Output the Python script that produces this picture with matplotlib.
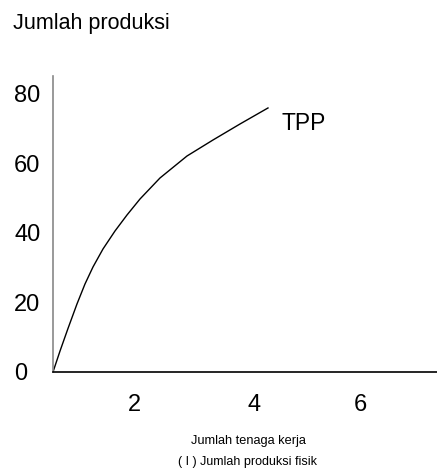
import matplotlib
matplotlib.use("Agg")
import matplotlib.pyplot as plt

plt.rcParams['font.family'] = ['Liberation Sans', 'DejaVu Sans']

# Data
labor = [0.0, 0.128, 0.273, 0.437, 0.583, 0.729, 0.911, 1.130, 1.349,
         1.586, 1.950, 2.443, 2.917, 3.409, 3.919]
tpp = [0.0, 6.03, 12.49, 19.53, 25.27, 30.16, 35.32, 40.49, 45.09,
       49.68, 55.71, 62.03, 66.63, 71.22, 75.82]
y_ticks = [0, 20, 40, 60, 80]
x_tick_labels = ["2", "4", "6"]
x_tick_pos = [1.48, 3.66, 5.60]

fig = plt.figure(figsize=(4.37, 4.72), dpi=100)
ax = fig.add_axes([53/437, 100/472, 384/437, 296/472])

ax.plot(labor, tpp, color='black', lw=1.0, solid_joinstyle='round')
ax.set_xlim(0, 7)
ax.set_ylim(0, 85)

for s in ['top', 'right']:
    ax.spines[s].set_visible(False)
ax.spines['left'].set_color('#888888')
ax.spines['left'].set_linewidth(1.2)
ax.spines['bottom'].set_color('black')
ax.spines['bottom'].set_linewidth(1.2)

ax.set_yticks(y_ticks)
ax.set_yticklabels([str(v) for v in y_ticks])
ax.tick_params(axis='y', length=0, pad=28, labelsize=17)
for lab in ax.get_yticklabels():
    lab.set_horizontalalignment('left')

ax.set_xticks(x_tick_pos)
ax.set_xticklabels(x_tick_labels)
ax.tick_params(axis='x', length=0, pad=16, labelsize=17)

ax.text(4.17, 71.5, "TPP", fontsize=16.5, va='center', ha='left')

fig.text(13/437, 1 - 29/472, "Jumlah produksi", fontsize=15.5, ha='left', va='baseline')
fig.text(248/437, 1 - 441/472, "Jumlah tenaga kerja", fontsize=9.2, ha='center', va='center')
fig.text(248/437, 1 - 462/472, "( I ) Jumlah produksi fisik", fontsize=9.0, ha='center', va='center')

fig.savefig("out.png", dpi=100)
